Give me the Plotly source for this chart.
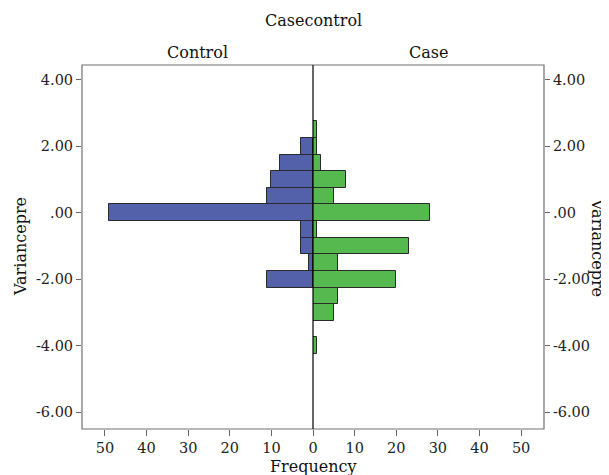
import plotly.graph_objects as go

# Bin centres (Variancepre) and frequencies
control_bins = [2.0, 1.5, 1.0, 0.5, 0.0, -0.5, -1.0, -1.5, -2.0]
control_freq = [3, 8, 10, 11, 49, 3, 3, 1, 11]

case_bins = [2.5, 2.0, 1.5, 1.0, 0.5, 0.0, -0.5, -1.0, -1.5, -2.0, -2.5, -3.0, -4.0]
case_freq = [1, 1, 2, 8, 5, 28, 1, 23, 6, 20, 6, 5, 1]

y_ticks = [4, 2, 0, -2, -4, -6]
y_ticklabels = ["4.00", "2.00", ".00", "-2.00", "-4.00", "-6.00"]
x_ticks_left = [0, 10, 20, 30, 40, 50]
x_ticks_right = [10, 20, 30, 40, 50]

BLUE = "#5360AA"
GREEN = "#55B94F"
FONT = "DejaVu Serif"

fig = go.Figure()
fig.add_trace(go.Bar(
    x=control_freq, y=control_bins, orientation="h", width=0.5,
    marker=dict(color=BLUE, line=dict(color="#2a2a2a", width=1)),
    xaxis="x", yaxis="y", showlegend=False,
))
fig.add_trace(go.Bar(
    x=case_freq, y=case_bins, orientation="h", width=0.5,
    marker=dict(color=GREEN, line=dict(color="#2a2a2a", width=1)),
    xaxis="x2", yaxis="y2", showlegend=False,
))

tickfont = dict(family=FONT, size=14.5, color="#222")
common_y = dict(range=[-6.51, 4.45], tickvals=y_ticks, ticktext=y_ticklabels,
                ticks="outside", ticklen=5, tickcolor="#666", showgrid=False,
                zeroline=False, tickfont=tickfont, showline=False, automargin=False)
titlefont = dict(family=FONT, size=16, color="#111")

fig.update_layout(
    width=609, height=475,
    margin=dict(l=74, r=73, t=57, b=54),
    paper_bgcolor="white", plot_bgcolor="white",
    bargap=0,
    xaxis=dict(domain=[0, 0.5], range=[55.5, 0], tickvals=x_ticks_left,
               ticks="outside", ticklen=6, tickcolor="#666", showgrid=False,
               zeroline=False, tickfont=tickfont, anchor="y", automargin=False),
    xaxis2=dict(domain=[0.5, 1], range=[0, 55.5], tickvals=x_ticks_right,
                ticks="outside", ticklen=6, tickcolor="#666", showgrid=False,
                zeroline=False, tickfont=tickfont, anchor="y2", automargin=False),
    yaxis=dict(anchor="x", side="left", **common_y),
    yaxis2=dict(anchor="x2", side="right", **common_y),
    shapes=[
        dict(type="rect", xref="paper", yref="paper", x0=0, x1=1, y0=0, y1=1,
             line=dict(color="#707070", width=1.2), layer="above"),
        dict(type="line", xref="paper", yref="paper", x0=0.5, x1=0.5, y0=0, y1=1,
             line=dict(color="black", width=1.2), layer="above"),
    ],
    annotations=[
        dict(text="Casecontrol", xref="paper", yref="paper", x=0.5, y=1,
             xanchor="center", yanchor="middle", yshift=45, showarrow=False, font=titlefont),
        dict(text="Control", xref="paper", yref="paper", x=0.25, y=1,
             xanchor="center", yanchor="middle", yshift=13, showarrow=False, font=titlefont),
        dict(text="Case", xref="paper", yref="paper", x=0.75, y=1,
             xanchor="center", yanchor="middle", yshift=13, showarrow=False, font=titlefont),
        dict(text="Frequency", xref="paper", yref="paper", x=0.5, y=0,
             xanchor="center", yanchor="middle", yshift=-37, showarrow=False, font=titlefont),
        dict(text="Variancepre", xref="paper", yref="paper", x=0, y=0.5,
             xanchor="center", yanchor="middle", xshift=-62, textangle=-90,
             showarrow=False, font=titlefont),
        dict(text="Variancepre", xref="paper", yref="paper", x=1, y=0.5,
             xanchor="center", yanchor="middle", xshift=54, textangle=90,
             showarrow=False, font=titlefont),
    ],
)

fig.write_html("out.html")
